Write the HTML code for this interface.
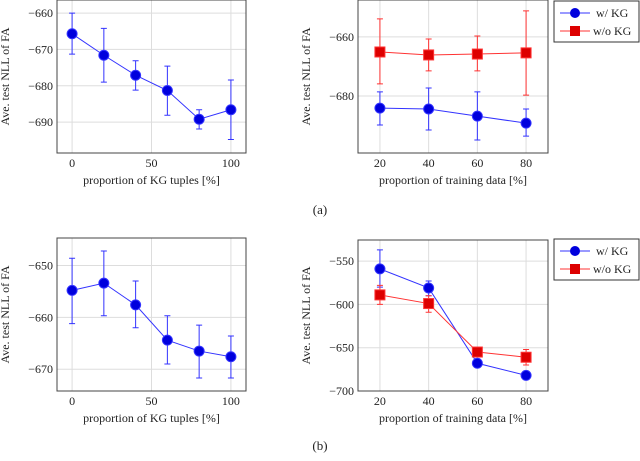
<!DOCTYPE html>
<html><head><meta charset="utf-8"><style>
body{margin:0;background:#fff}
svg text{font-family:"Liberation Serif",serif;fill:#222}
</style></head><body>
<svg id="s" width="640" height="456" viewBox="0 0 640 456" xmlns="http://www.w3.org/2000/svg"></svg>
<script>
// Panel (a) left
const aLx=[0,20,40,60,80,100];
const aLy=[-665.7,-671.6,-677.1,-681.3,-689.2,-686.6];
const aLhi=[-660,-664.2,-673.1,-674.6,-686.6,-678.4];
const aLlo=[-671.3,-679,-681.2,-688.1,-691.9,-694.8];
// Panel (a) right
const aRx=[20,40,60,80];
const aRw=[-684.1,-684.4,-686.8,-689.2];
const aRwHi=[-678.6,-677.3,-678.6,-684.4];
const aRwLo=[-689.8,-691.5,-694.9,-693.6];
const aRo=[-665.1,-666.1,-665.8,-665.4];
const aRoHi=[-653.9,-660.7,-659.7,-651.2];
const aRoLo=[-675.9,-671.5,-671.5,-679.7];
// Panel (b) left
const bLx=[0,20,40,60,80,100];
const bLy=[-654.8,-653.4,-657.6,-664.4,-666.5,-667.6];
const bLhi=[-648.6,-647.2,-653,-659.7,-661.5,-663.6];
const bLlo=[-661.2,-659.7,-662,-669,-671.7,-671.7];
// Panel (b) right
const bRx=[20,40,60,80];
const bRw=[-559,-581,-668,-682];
const bRwHi=[-537,-573,-665,-680];
const bRwLo=[-580,-590,-671,-684];
const bRo=[-589,-599,-655,-661];
const bRoHi=[-578,-590,-650,-652];
const bRoLo=[-600,-609,-660,-670];
const ticksLx=[0,50,100];
const ticksRx=[20,40,60,80];
const aLyt=[-660,-670,-680,-690];
const aRyt=[-660,-680];
const bLyt=[-650,-660,-670];
const bRyt=[-550,-600,-650,-700];

const S=document.getElementById('s');const NS='http://www.w3.org/2000/svg';
function el(t,a,p){const e=document.createElementNS(NS,t);for(const k in a)e.setAttribute(k,a[k]);(p||S).appendChild(e);return e;}
function panel(name,box,xd,yd,xt,yt,xlabel,series){
  const g=el('g',{});
  
  
  const X=v=>box.x0+(v-xd[0])/(xd[1]-xd[0])*(box.x1-box.x0);
  const Y=v=>box.y1-(v-yd[0])/(yd[1]-yd[0])*(box.y1-box.y0);
  xt.forEach(t=>{const l=el('line',{x1:X(t),x2:X(t),y1:box.y0,y2:box.y1,stroke:'#ddd','stroke-width':1},g);
    const tx=el('text',{x:X(t),y:box.y1+14,'text-anchor':'middle','font-size':12},g);tx.textContent=t;});
  yt.forEach(t=>{const l=el('line',{x1:box.x0,x2:box.x1,y1:Y(t),y2:Y(t),stroke:'#ddd','stroke-width':1},g);
    const tx=el('text',{x:box.x0-4,y:Y(t)+4,'text-anchor':'end','font-size':12},g);tx.textContent='\u2212'+Math.abs(t);});
  const r=el('rect',{x:box.x0,y:box.y0,width:box.x1-box.x0,height:box.y1-box.y0,fill:'none',stroke:'#444','stroke-width':1},g);
  
  const xl=el('text',{x:(box.x0+box.x1)/2,y:box.y1+31,'text-anchor':'middle','font-size':12},g);xl.textContent=xlabel;
  
  const cy=(box.y0+box.y1)/2;
  const ylx=box.x0>300?310:9;
  const yl=el('text',{x:ylx,y:cy,'text-anchor':'middle','font-size':12,transform:`rotate(-90 ${ylx} ${cy})`},g);yl.textContent='Ave. test NLL of FA';
  
  series.forEach(s=>{
    const pts=s.x.map((v,i)=>X(v)+','+Y(s.y[i])).join(' ');
    const pl=el('polyline',{points:pts,fill:'none',stroke:s.c,'stroke-width':1},g);
    
    s.x.forEach((v,i)=>{const x=X(v),a=Y(s.hi[i]),b=Y(s.lo[i]);
      const e=el('path',{d:`M${x},${a}V${b}M${x-3},${a}h6M${x-3},${b}h6`,stroke:s.c,'stroke-width':1,fill:'none'},g);
      
      let m;
      if(s.sq)m=el('rect',{x:x-5,y:Y(s.y[i])-5,width:10,height:10,fill:'#d00',stroke:'#f33'},g);
      else m=el('circle',{cx:x,cy:Y(s.y[i]),r:5,fill:'#00d',stroke:'#33f'},g);
      });
  });
}
function legend(y0){
  const g=el('g',{});
  
  
  el('rect',{x:554,y:y0,width:85,height:41,fill:'#fff',stroke:'#333'},g);
  el('line',{x1:560,x2:590,y1:y0+12,y2:y0+12,stroke:'#33f'},g);
  el('circle',{cx:575,cy:y0+12,r:5,fill:'#00d'},g);
  const t1=el('text',{x:596,y:y0+16,'font-size':12},g);t1.textContent='w/ KG';
  
  el('line',{x1:560,x2:590,y1:y0+30,y2:y0+30,stroke:'#f33'},g);
  el('rect',{x:570,y:y0+25,width:10,height:10,fill:'#d00'},g);
  const t2=el('text',{x:593,y:y0+34,'font-size':12},g);t2.textContent='w/o KG';
  
}
panel('panel-a-left',{x0:57,x1:246,y0:0,y1:153},[-9.5,109.5],[-698.5,-656.4],ticksLx,aLyt,'proportion of KG tuples [%]',
  [{n:'kg',x:aLx,y:aLy,hi:aLhi,lo:aLlo,c:'#33f'}]);
panel('panel-a-right',{x0:358,x1:548,y0:0,y1:153},[11,89],[-699.3,-647.5],ticksRx,aRyt,'proportion of training data [%]',
  [{n:'wkg',x:aRx,y:aRw,hi:aRwHi,lo:aRwLo,c:'#33f'},{n:'wokg',x:aRx,y:aRo,hi:aRoHi,lo:aRoLo,c:'#f33',sq:1}]);
panel('panel-b-left',{x0:57,x1:246,y0:238,y1:391},[-9.5,109.5],[-674.2,-644.7],ticksLx,bLyt,'proportion of KG tuples [%]',
  [{n:'kg',x:bLx,y:bLy,hi:bLhi,lo:bLlo,c:'#33f'}]);
panel('panel-b-right',{x0:358,x1:548,y0:240,y1:391},[11,89],[-700,-525.6],ticksRx,bRyt,'proportion of training data [%]',
  [{n:'wkg',x:bRx,y:bRw,hi:bRwHi,lo:bRwLo,c:'#33f'},{n:'wokg',x:bRx,y:bRo,hi:bRoHi,lo:bRoLo,c:'#f33',sq:1}]);
legend(1);legend(239);
const ca=el('text',{x:320,y:214,'text-anchor':'middle','font-size':13});ca.textContent='(a)';

const cb=el('text',{x:320,y:450,'text-anchor':'middle','font-size':13});cb.textContent='(b)';

</script>
</body></html>
